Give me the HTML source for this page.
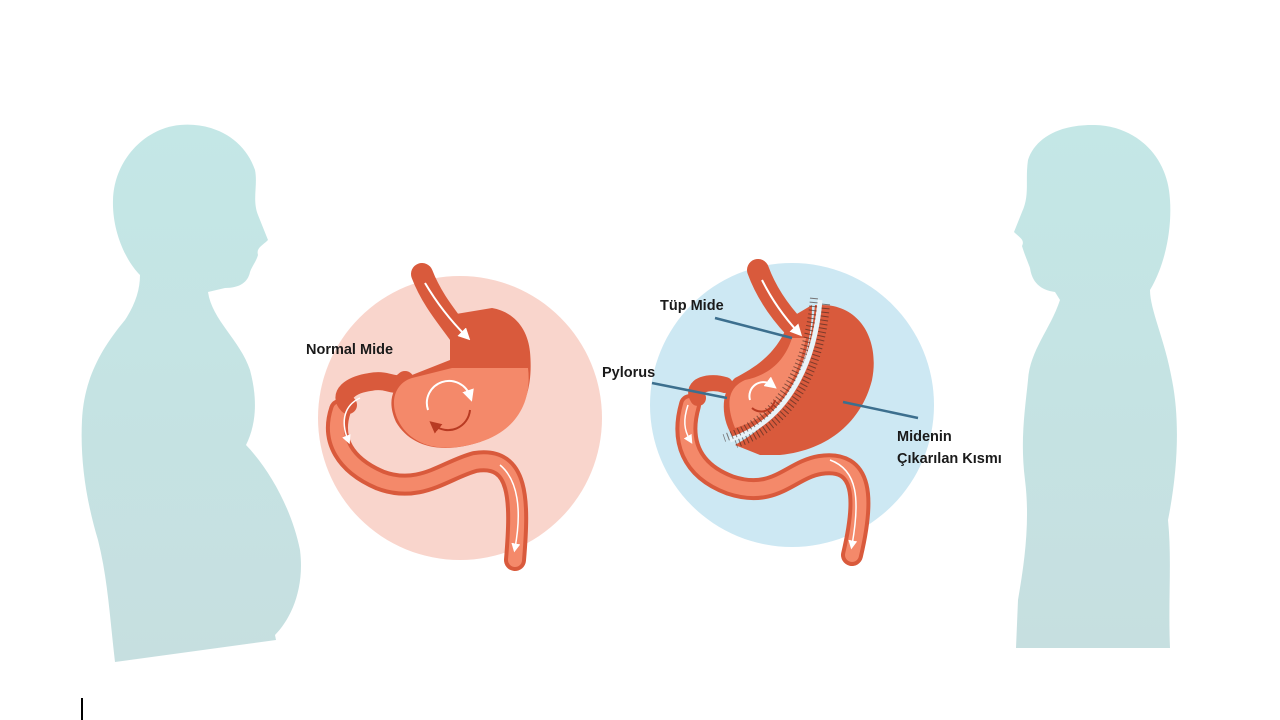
<!DOCTYPE html>
<html><head><meta charset="utf-8"><style>
html,body{margin:0;padding:0;background:#fff;}
svg{display:block}
text{font-family:"Liberation Sans",sans-serif;font-weight:bold;font-size:14.5px;fill:#1a1a1a}
</style></head><body>
<svg width="1280" height="720" viewBox="0 0 1280 720" xmlns="http://www.w3.org/2000/svg">
<defs>
<linearGradient id="sil" x1="0" y1="0" x2="0" y2="1">
<stop offset="0" stop-color="#c4e7e6"/><stop offset="1" stop-color="#c6dfe0"/>
</linearGradient>
<marker id="wa" markerWidth="6" markerHeight="6" refX="3" refY="3" orient="auto"><path d="M0,0L6,3L0,6z" fill="#fff"/></marker>
<marker id="da" markerWidth="6" markerHeight="6" refX="3" refY="3" orient="auto"><path d="M0,0L6,3L0,6z" fill="#b83a22"/></marker>
</defs>
<rect width="1280" height="720" fill="#fff"/>
<path fill="url(#sil)" d="M180 125 C215 122 245 140 255 170 C258 185 252 200 258 215 L268 240 C262 246 256 248 258 255 C256 262 252 266 250 272 C248 282 240 288 225 288 L208 292 C212 320 240 340 250 370 C258 400 256 425 246 445 C270 470 292 510 300 550 C305 590 290 620 275 635 L276 640 L115 662 C110 620 108 580 98 540 C86 500 80 460 82 420 C84 380 100 350 125 320 C135 305 140 290 140 275 C125 260 112 230 113 200 C114 160 145 128 180 125Z"/>
<path fill="url(#sil)" d="M1095 125 C1060 124 1035 138 1028 160 C1025 180 1030 195 1022 212 L1014 232 C1020 238 1025 240 1022 246 C1025 256 1028 262 1030 268 C1032 282 1040 290 1055 292 L1060 300 C1050 330 1030 350 1028 380 C1025 410 1020 440 1025 480 C1030 520 1025 560 1018 600 L1016 648 L1170 648 C1168 600 1172 560 1168 520 C1178 470 1180 420 1172 380 C1165 340 1150 310 1150 290 C1165 265 1172 230 1170 200 C1168 155 1135 126 1095 125Z"/>
<circle cx="460" cy="418" r="142" fill="#f9d5cc"/>
<circle cx="792" cy="405" r="142" fill="#cde8f3"/>

<!-- LEFT STOMACH -->
<g>
<path d="M340 410 C330 440 345 465 380 480 C420 495 445 470 475 462 C520 455 520 500 515 560" fill="none" stroke="#d95a3c" stroke-width="22" stroke-linecap="round"/>
<path d="M340 410 C330 440 345 465 380 480 C420 495 445 470 475 462 C520 455 520 500 515 560" fill="none" stroke="#f4896a" stroke-width="14" stroke-linecap="round"/>
<path d="M348 405 C338 395 350 385 370 382 C390 378 395 390 405 380" fill="none" stroke="#d95a3c" stroke-width="18" stroke-linecap="round"/>
<path d="M422 274 C432 300 448 318 460 335" fill="none" stroke="#d95a3c" stroke-width="22" stroke-linecap="round"/>
<path d="M450 315 L450 360 L412 375 C395 382 385 398 396 422 C410 446 440 455 480 442 C520 426 534 396 530 352 C528 330 515 312 492 308 Z" fill="#d95a3c"/>
<path d="M452 368 L528 368 C532 400 518 430 480 442 C440 455 410 445 398 420 C388 398 398 382 412 378 Z" fill="#f4896a"/>
<path d="M425 283 C438 305 452 322 466 336" fill="none" stroke="#fff" stroke-width="2" marker-end="url(#wa)"/>
<path d="M428 410 A22 22 0 0 1 470 396" fill="none" stroke="#fff" stroke-width="2" marker-end="url(#wa)"/>
<path d="M470 410 A22 22 0 0 1 434 425" fill="none" stroke="#b83a22" stroke-width="2" marker-end="url(#da)"/>
<path d="M360 398 C345 405 340 420 348 440" fill="none" stroke="#fff" stroke-width="1.5" marker-end="url(#wa)"/>
<path d="M500 465 C518 480 522 510 515 548" fill="none" stroke="#fff" stroke-width="1.5" marker-end="url(#wa)"/>
</g>
<text x="306" y="354">Normal Mide</text>

<!-- RIGHT STOMACH -->
<g>
<path d="M690 405 C680 440 690 470 730 485 C775 500 790 470 820 465 C865 458 865 500 852 555" fill="none" stroke="#d95a3c" stroke-width="22" stroke-linecap="round"/>
<path d="M690 405 C680 440 690 470 730 485 C775 500 790 470 820 465 C865 458 865 500 852 555" fill="none" stroke="#f4896a" stroke-width="14" stroke-linecap="round"/>
<path d="M698 398 C690 385 710 380 725 385" fill="none" stroke="#d95a3c" stroke-width="16" stroke-linecap="round"/>
<path d="M758 270 C766 292 780 312 795 328" fill="none" stroke="#d95a3c" stroke-width="22" stroke-linecap="round"/>
<path d="M815 305 L822 305 C860 305 880 340 872 380 C862 420 830 450 780 455 L760 455 L735 445 C780 420 808 380 815 305 Z" fill="#d95a3c"/>
<path d="M790 318 L812 305 C812 360 790 410 735 440 C720 420 720 392 735 378 C760 365 780 350 790 318 Z" fill="#d95a3c"/>
<path d="M792 338 C785 360 770 375 745 380 C727 388 726 405 735 428 C770 418 795 392 806 338 Z" fill="#f4896a"/>
<path d="M820 300 C815 360 790 420 730 440" fill="none" stroke="#e8f3f8" stroke-width="5"/>
<path d="M820 300 C815 360 790 420 730 440" fill="none" stroke="#3a2520" stroke-width="8" stroke-dasharray="1 3" opacity="0.6" transform="translate(-6,-2)"/>
<path d="M820 300 C815 360 790 420 730 440" fill="none" stroke="#3a2520" stroke-width="8" stroke-dasharray="1 3" opacity="0.6" transform="translate(6,4)"/>
<path d="M762 280 C772 300 785 318 798 332" fill="none" stroke="#fff" stroke-width="2" marker-end="url(#wa)"/>
<path d="M750 400 A14 14 0 0 1 772 385" fill="none" stroke="#fff" stroke-width="2" marker-end="url(#wa)"/>
<path d="M775 400 A14 14 0 0 1 752 408" fill="none" stroke="#b83a22" stroke-width="2"/>
<path d="M688 405 C683 420 684 430 690 440" fill="none" stroke="#fff" stroke-width="1.5" marker-end="url(#wa)"/>
<path d="M830 460 C858 470 860 500 852 545" fill="none" stroke="#fff" stroke-width="1.5" marker-end="url(#wa)"/>
</g>
<line x1="715" y1="318" x2="792" y2="338" stroke="#3c6f8e" stroke-width="2.5"/>
<line x1="652" y1="383" x2="727" y2="398" stroke="#3c6f8e" stroke-width="2.5"/>
<line x1="843" y1="402" x2="918" y2="418" stroke="#3c6f8e" stroke-width="2.5"/>
<text x="660" y="310">Tüp Mide</text>
<text x="602" y="377">Pylorus</text>
<text x="897" y="441">Midenin</text>
<text x="897" y="463">Çıkarılan Kısmı</text>
<line x1="82" y1="698" x2="82" y2="720" stroke="#000" stroke-width="2"/>
</svg>
</body></html>
